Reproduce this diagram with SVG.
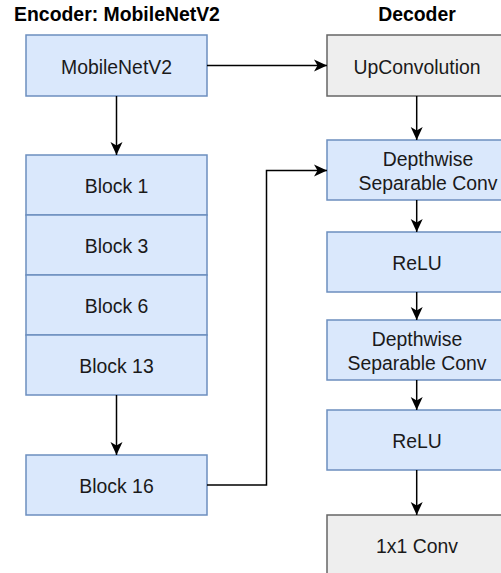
<svg xmlns="http://www.w3.org/2000/svg" width="501" height="573" viewBox="0 0 501 573">
<defs>
<marker id="arr" markerUnits="userSpaceOnUse" markerWidth="14" markerHeight="13" viewBox="0 0 14 13" refX="13" refY="6.5" orient="auto">
<path d="M0,0.5 L13,6.5 L0,12.5 L3.5,6.5 Z" fill="#000"/>
</marker>
<style>
.blue{fill:#dae8fc;stroke:#6c8ebf;stroke-width:1.5}
.gray{fill:#eeeeee;stroke:#666666;stroke-width:1.5}
.t{font-family:"Liberation Sans",Arial,sans-serif;font-size:19.4px;fill:#1a1a1a;text-anchor:middle}
.h{font-family:"Liberation Sans",Arial,sans-serif;font-size:19.4px;font-weight:bold;fill:#000;text-anchor:middle}
.c{fill:none;stroke:#000;stroke-width:1.5}
</style>
</defs>
<rect width="501" height="573" fill="#ffffff"/>
<text class="h" x="117" y="21">Encoder: MobileNetV2</text>
<text class="h" x="417" y="21">Decoder</text>
<g id="mobilenet"><rect class="blue" x="26" y="35" width="181" height="61"/><text class="t" x="116.5" y="74">MobileNetV2</text></g>
<g id="block1"><rect class="blue" x="26" y="155" width="181" height="60"/><text class="t" x="116.5" y="193">Block 1</text></g>
<g id="block3"><rect class="blue" x="26" y="215" width="181" height="60"/><text class="t" x="116.5" y="253">Block 3</text></g>
<g id="block6"><rect class="blue" x="26" y="275" width="181" height="60"/><text class="t" x="116.5" y="313">Block 6</text></g>
<g id="block13"><rect class="blue" x="26" y="335" width="181" height="60"/><text class="t" x="116.5" y="373">Block 13</text></g>
<g id="block16"><rect class="blue" x="26" y="455" width="181" height="60"/><text class="t" x="116.5" y="493">Block 16</text></g>
<g id="upconv"><rect class="gray" x="327" y="35" width="181" height="61"/><text class="t" x="417" y="74">UpConvolution</text></g>
<g id="dw1"><rect class="blue" x="327" y="140" width="202" height="60"/><text class="t" x="428" y="166">Depthwise</text><text class="t" x="428" y="189.5">Separable Conv</text></g>
<g id="relu1"><rect class="blue" x="327" y="232" width="181" height="60"/><text class="t" x="417" y="270">ReLU</text></g>
<g id="dw2"><rect class="blue" x="327" y="320" width="181" height="60"/><text class="t" x="417" y="346">Depthwise</text><text class="t" x="417" y="370">Separable Conv</text></g>
<g id="relu2"><rect class="blue" x="327" y="410" width="181" height="60"/><text class="t" x="417" y="448">ReLU</text></g>
<g id="conv1x1"><rect class="gray" x="327" y="515" width="181" height="61"/><text class="t" x="417" y="553">1x1 Conv</text></g>
<g id="connectors">
<path class="c" d="M116.5,96 V155" marker-end="url(#arr)"/>
<path class="c" d="M207,65.5 H327" marker-end="url(#arr)"/>
<path class="c" d="M116.5,395 V455" marker-end="url(#arr)"/>
<path class="c" d="M207,485 H266.5 V170.5 H327" marker-end="url(#arr)"/>
<path class="c" d="M416.7,96 V140" marker-end="url(#arr)"/>
<path class="c" d="M416.7,200 V232" marker-end="url(#arr)"/>
<path class="c" d="M416.7,292 V320" marker-end="url(#arr)"/>
<path class="c" d="M416.7,380 V410" marker-end="url(#arr)"/>
<path class="c" d="M416.7,470 V515" marker-end="url(#arr)"/>
</g>
</svg>
